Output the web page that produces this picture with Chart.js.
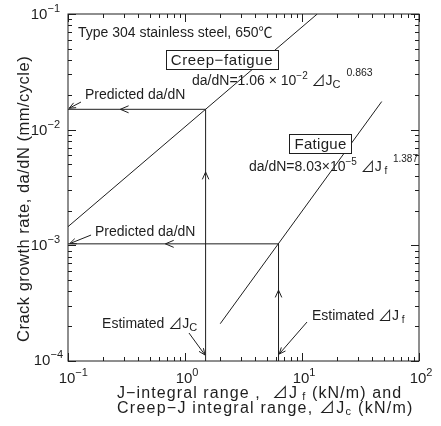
<!DOCTYPE html>
<html>
<head>
<meta charset="utf-8">
<script src="https://cdn.jsdelivr.net/npm/chart.js@4.4.0/dist/chart.umd.min.js"></script>
<style>
    html, body { margin: 0; padding: 0; background: #fff; }
    #wrap { width: 441px; height: 426px; }
</style>
</head>
<body>
<div id="wrap"><canvas id="chart" width="441" height="426"></canvas></div>
<script>
// da/dN lines (J in kN/m, da/dN in mm/cycle)
const creepFatigueLine = [{ x: 0.1, y: 1.45e-3 }, { x: 13.5, y: 0.1 }];
const fatigueLine = [{ x: 2.0, y: 2.1e-4 }, { x: 48, y: 0.0175 }];

// estimated J up to the line, then across to the predicted da/dN
const creepPath = [{ x: 1.5, y: 1e-4 }, { x: 1.5, y: 0.015 }, { x: 0.1, y: 0.015 }];
const fatiguePath = [{ x: 6.3, y: 1e-4 }, { x: 6.3, y: 1.03e-3 }, { x: 0.1, y: 1.03e-3 }];

// direction marks sitting on the paths
const pathArrows = [
    { x: 1.5, y: 4.3e-3, dir: "up" },
    { x: 0.28, y: 0.015, dir: "left" },
    { x: 6.3, y: 4.1e-4, dir: "up" },
    { x: 0.68, y: 1.03e-3, dir: "left" },
];

const xDecades = [-1, 0, 1, 2];
const yDecades = [-4, -3, -2, -1];

const FONT = '"Liberation Sans", Arial, "Noto Sans CJK JP", sans-serif';
const INK = "#1e1e1e";

// label anchors are given in decades (log10 of the axis value)
const notes = [
    { at: [-0.915, -1.199], parts: [["Type 304 stainless steel, 650℃", 14]] },
    { at: [0.316, -1.389], box: true, sp: 0.6, parts: [["Creep−fatigue", 15]] },
    { at: [0.06, -1.614], parts: [["da/dN=1.06", 14], [" × ", 14], ["10", 14], ["−2", 10, -6], [" ⊿J", 14], ["C", 11, 3], ["  0.863", 10.5, -9]] },
    { at: [1.158, -2.111], box: true, sp: 0.3, parts: [["Fatigue", 15]] },
    { at: [0.547, -2.357], parts: [["da/dN=8.03", 14], ["×", 14], ["10", 14], ["−5", 10, -6], [" ⊿J", 14], [" f", 10, 3], ["  1.387", 10, -9]] },
    { at: [-0.855, -1.735], parts: [["Predicted da/dN", 14]] },
    { at: [-0.769, -2.919], parts: [["Predicted da/dN", 14]] },
    { at: [-0.709, -3.715], parts: [["Estimated ⊿J", 14], ["C", 11, 3]] },
    { at: [1.085, -3.646], parts: [["Estimated ⊿J", 14], [" f", 10, 3]] },
];

const pointers = [
    { from: [-0.889, -1.761], to: [-0.99, -1.815] },
    { from: [-0.803, -2.911], to: [-0.985, -2.985] },
    { from: [0.034, -3.758], to: [0.171, -3.948] },
    { from: [1.043, -3.663], to: [0.805, -3.94] },
];

function drawParts(ctx, x, y, parts) {
    for (const [t, size, dy] of parts) {
        ctx.font = `${size}px ${FONT}`;
        ctx.fillText(t, x, y + (dy || 0));
        x += ctx.measureText(t).width;
    }
    return x;
}

// width without any letter spacing, plus the spacing added by hand
function partsWidth(ctx, parts, sp) {
    let w = 0, n = 0;
    for (const [t, size] of parts) {
        ctx.font = `${size}px ${FONT}`;
        w += ctx.measureText(t).width;
        n += [...t].length;
    }
    return w + n * (sp || 0);
}

// draws spaced parts, advancing by glyph width + spacing per char
function drawSpaced(ctx, x, y, parts, sp) {
    for (const [t, size, dy] of parts) {
        ctx.font = `${size}px ${FONT}`;
        for (const ch of t) {
            ctx.fillText(ch, x, y + (dy || 0));
            x += ctx.measureText(ch).width + sp;
        }
    }
    return x;
}

function head(ctx, tx, ty, ang, len, spread) {
    ctx.beginPath();
    ctx.moveTo(tx + len * Math.cos(ang + spread), ty + len * Math.sin(ang + spread));
    ctx.lineTo(tx, ty);
    ctx.lineTo(tx + len * Math.cos(ang - spread), ty + len * Math.sin(ang - spread));
    ctx.stroke();
}

const decorations = {
    id: "decorations",
    afterDraw(chart) {
        const { ctx, chartArea: a, scales: { x, y } } = chart;
        const px = (d) => x.getPixelForValue(Math.pow(10, d));
        const py = (d) => y.getPixelForValue(Math.pow(10, d));
        ctx.save();
        ctx.strokeStyle = INK;
        ctx.fillStyle = INK;
        ctx.lineWidth = 1;

        // frame
        ctx.strokeRect(a.left, a.top, a.right - a.left, a.bottom - a.top);

        // inward ticks on all four sides
        ctx.beginPath();
        for (let d = -1; d <= 2; d++) {
            for (let m = 1; m <= 9; m++) {
                if (d === 2 && m > 1) break;
                const X = Math.round(x.getPixelForValue(m * Math.pow(10, d))) + 0.5;
                const len = m === 1 ? 8 : 4;
                ctx.moveTo(X, a.bottom); ctx.lineTo(X, a.bottom - len);
                ctx.moveTo(X, a.top); ctx.lineTo(X, a.top + len);
            }
        }
        for (let d = -4; d <= -1; d++) {
            for (let m = 1; m <= 9; m++) {
                if (d === -1 && m > 1) break;
                const Y = Math.round(y.getPixelForValue(m * Math.pow(10, d))) + 0.5;
                const len = m === 1 ? 8 : 4;
                ctx.moveTo(a.left, Y); ctx.lineTo(a.left + len, Y);
                ctx.moveTo(a.right, Y); ctx.lineTo(a.right - len, Y);
            }
        }
        ctx.stroke();

        // tick labels 10^n
        ctx.textBaseline = "alphabetic";
        for (const d of yDecades) {
            const parts = [["10", 15], [String(d).replace("-", "−"), 11, -7]];
            const w = partsWidth(ctx, parts);
            let yy = py(d) + 5;
            let xx = a.left - 8 - w;
            if (d === -4) { yy -= 1; xx += 3; }
            drawParts(ctx, xx, yy, parts);
        }
        for (const d of xDecades) {
            const parts = [["10", 15], [String(d).replace("-", "−"), 11, -7]];
            ctx.font = `15px ${FONT}`;
            const w10 = ctx.measureText("10").width;
            drawParts(ctx, px(d) - w10 / 2 - 1, a.bottom + 22, parts);
        }

        // axis titles, set loose like the printed original
        const l1 = [["J−integral range ,  ⊿J", 16], [" f", 11, 2], [" (kN/m) and", 16]];
        const l2 = [["Creep−J integral range, ⊿J", 16], ["c", 11, 2], [" (kN/m)", 16]];
        drawSpaced(ctx, a.left + 49, 398, l1, 1.1);
        drawSpaced(ctx, a.left + 49, 413, l2, 1.25);

        ctx.save();
        ctx.translate(29, 342);
        ctx.rotate(-Math.PI / 2);
        drawSpaced(ctx, 0, 0, [["Crack growth rate, da/dN (mm/cycle)", 16.5]], 0.5);
        ctx.restore();

        // arrow marks on the paths
        for (const m of pathArrows) {
            const X = x.getPixelForValue(m.x), Y = y.getPixelForValue(m.y);
            if (m.dir === "up") head(ctx, X, Y, Math.PI / 2, 8, 0.42);
            else head(ctx, X, Y, 0, 9, 0.4);
        }

        // labels and pointers
        for (const n of notes) {
            const X = px(n.at[0]), Y = py(n.at[1]);
            if (n.box) {
                const w = partsWidth(ctx, n.parts, n.sp);
                const bx = Math.round(X - w / 2 - 5) + 0.5, by = Math.round(Y - 9) + 0.5;
                ctx.fillStyle = "#fff";
                ctx.fillRect(bx, by, Math.round(w + 10), 19);
                ctx.fillStyle = INK;
                ctx.strokeRect(bx, by, Math.round(w + 10), 19);
                drawSpaced(ctx, X - w / 2, Y + 6, n.parts, n.sp);
            } else {
                drawParts(ctx, X, Y, n.parts);
            }
        }
        for (const p of pointers) {
            const x0 = px(p.from[0]), y0 = py(p.from[1]);
            const x1 = px(p.to[0]), y1 = py(p.to[1]);
            ctx.beginPath();
            ctx.moveTo(x0, y0);
            ctx.lineTo(x1, y1);
            ctx.stroke();
            head(ctx, x1, y1, Math.atan2(y0 - y1, x0 - x1), 7, 0.4);
        }
        ctx.restore();
    },
};

const lineStyle = {
    showLine: true,
    borderColor: INK,
    borderWidth: 1,
    pointRadius: 0,
    fill: false,
};

new Chart(document.getElementById("chart"), {
    type: "scatter",
    data: {
        datasets: [
            { label: "Creep-fatigue", data: creepFatigueLine, ...lineStyle },
            { label: "Fatigue", data: fatigueLine, ...lineStyle },
            { label: "Creep-fatigue path", data: creepPath, ...lineStyle },
            { label: "Fatigue path", data: fatiguePath, ...lineStyle },
        ],
    },
    options: {
        responsive: false,
        animation: false,
        layout: { padding: { left: 68, right: 22, top: 14, bottom: 65 } },
        plugins: { legend: { display: false }, tooltip: { enabled: false } },
        scales: {
            x: { type: "logarithmic", min: 0.1, max: 100, display: false },
            y: { type: "logarithmic", min: 1e-4, max: 0.1, display: false },
        },
    },
    plugins: [decorations],
});
</script>
</body>
</html>
